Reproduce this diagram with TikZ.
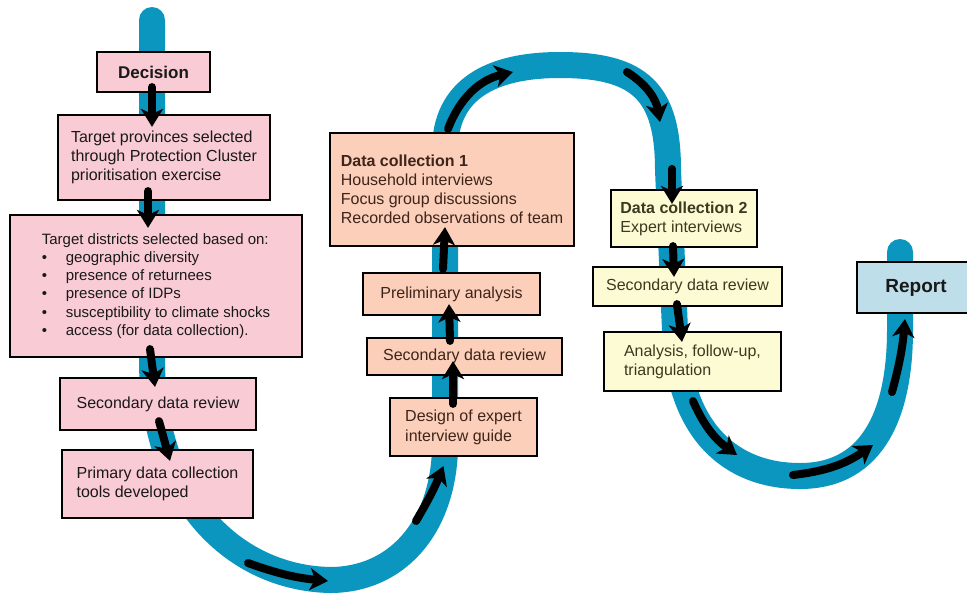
\documentclass[tikz,border=0pt]{standalone}
\usepackage{fontspec}
\setmainfont{Liberation Sans}
\usetikzlibrary{arrows.meta,calc}
\definecolor{bandblue}{RGB}{10,150,190}
\definecolor{pinkbox}{RGB}{249,203,213}
\definecolor{peachbox}{RGB}{251,207,186}
\definecolor{creambox}{RGB}{253,251,211}
\definecolor{reportbox}{RGB}{190,222,234}
\definecolor{peachtxt}{RGB}{62,36,26}
\definecolor{creamtxt}{RGB}{58,58,32}
\tikzset{
  box/.style={draw,line width=2.2pt,fill=#1,inner sep=0pt,align=left,text=black!90,font=\fontsize{16}{19}\selectfont},
  box/.default={white},
  hd/.style={font=\fontsize{17}{20}\selectfont\bfseries,align=center},
  band/.style={draw=bandblue,line width=26pt,line cap=round},
  flow/.style={-{Stealth[length=18pt,width=22pt,inset=5pt]},line width=8pt,line cap=round},
}
\newcommand{\itm}{\makebox[24pt][l]{\textbullet}}

\begin{document}
\begin{tikzpicture}[x=1pt,y=-1pt]
 \useasboundingbox[fill=white] (0,0) rectangle (967,595);
 % the blue flow band
 \draw[band] (152,20) -- (152,360) .. controls (152,500) and (235,578) .. (330,580)
   .. controls (395,580) and (442,530) .. (445,450) -- (445,150)
   .. controls (445,90) and (490,65) .. (560,65) .. controls (640,65) and (668,92) .. (668,170)
   -- (675,330) .. controls (678,430) and (730,476) .. (800,476)
   .. controls (875,476) and (900,410) .. (900,330) -- (900,252);
 % decision column
 \node[box=pinkbox,hd,minimum width=113pt,minimum height=40pt] (dec) at (153.5,72) {Decision};
 \node[box=pinkbox,minimum width=212pt,minimum height=85pt] (prov) at (164,157.5) {Target provinces selected\\through Protection Cluster\\prioritisation exercise};
 \node[box=pinkbox,minimum width=292pt,minimum height=142pt,font=\fontsize{15}{18.2}\selectfont] (dist) at (156,286) {Target districts selected based on:\\\itm geographic diversity\\\itm presence of returnees\\\itm presence of IDPs\\\itm susceptibility to climate shocks\\\itm access (for data collection).};
 \node[box=pinkbox,minimum width=196pt,minimum height=52pt] (sdr1) at (158,404) {Secondary data review};
 \node[box=pinkbox,minimum width=191pt,minimum height=68pt] (prim) at (157.5,484) {Primary data collection\\tools developed};
 % first data collection column
 \node[box=peachbox,text=peachtxt,minimum width=244pt,minimum height=113pt] (dc1) at (452,189.5) {\textbf{Data collection 1}\\Household interviews\\Focus group discussions\\Recorded observations of team};
 \node[box=peachbox,text=peachtxt,minimum width=177pt,minimum height=42pt] (prel) at (451.5,294) {Preliminary analysis};
 \node[box=peachbox,text=peachtxt,minimum width=195pt,minimum height=37pt] (sdr2) at (464.5,356.5) {Secondary data review};
 \node[box=peachbox,text=peachtxt,minimum width=147pt,minimum height=58pt,font=\fontsize{16}{20}\selectfont] (des) at (463.5,427) {Design of expert\\interview guide};
 % second data collection column
 \node[box=creambox,text=creamtxt,minimum width=146pt,minimum height=57pt] (dc2) at (684,218.5) {\textbf{Data collection 2}\\Expert interviews};
 \node[box=creambox,text=creamtxt,minimum width=189pt,minimum height=39pt] (sdr3) at (687.5,286.5) {Secondary data review};
 \node[box=creambox,text=creamtxt,minimum width=177pt,minimum height=59pt] (ana) at (692.5,361.5) {Analysis, follow-up,\\triangulation};
 \node[box=reportbox,hd,font=\fontsize{19}{22}\selectfont\bfseries,minimum width=118pt,minimum height=51pt] (rep) at (916,287.5) {Report};
 % arrows between boxes
 \draw[flow] ($(dec.south)+(-1.5,-6)$) -- ($(dec.south |- prov.north)+(-1.5,13)$);
 \draw[flow] ($(prov.south)+(-16,-10)$) -- ($(dist.north)+(-8,14)$);
 \draw[flow] ($(dist.south)+(-6,-9)$) -- ($(sdr1.north)+(-3,10)$);
 \draw[flow] ($(sdr1.south)+(1,-10)$) -- ($(prim.north)+(12.5,12)$);
 \draw[flow] ($(des.north)+(-10.5,7)$) -- ($(sdr2.south)+(-11.5,-15)$);
 \draw[flow] ($(sdr2.north)+(-14.5,4)$) -- ($(prel.south)+(-2.5,-12)$);
 \draw[flow] ($(prel.north)+(-8.5,-3)$) -- ($(dc1.south)+(-7,-20)$);
 \draw[flow] ($(dc2.north)+(-12,-20)$) -- ($(dc2.north)+(-12,15)$);
 \draw[flow] ($(dc2.south)+(-11,-2)$) -- ($(sdr3.north)+(-13.5,11)$);
 \draw[flow] ($(sdr3.south)+(-10.5,-3)$) -- ($(ana.north)+(-10.5,11)$);
 % arrows along the band
 \draw[flow] (248,563) to[bend right=7] (328,581);
 \draw[flow] (416,521) to[bend right=4] ($(des.south)+(-20,9)$);
 \draw[flow] ($(dc1.north)+(-4,-3)$) to[bend left=28] (513,72);
 \draw[flow] (627,72) to[bend left=24] (660,122);
 \draw[flow] ($(ana.south)+(0.5,9)$) to[bend right=15] (737,455);
 \draw[flow] (793,475) to[bend right=14] (873,445);
 \draw[flow] (892,392) to[bend right=5] ($(rep.south)+(-11,5)$);
\end{tikzpicture}
\end{document}
